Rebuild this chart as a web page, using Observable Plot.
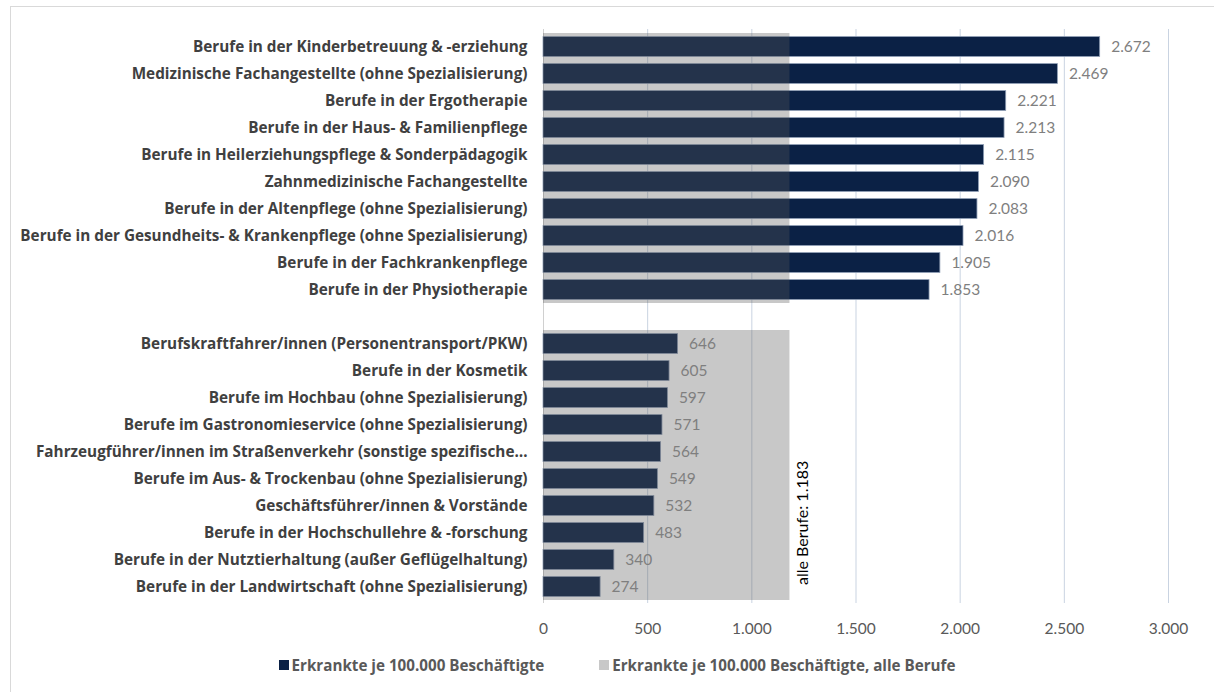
<!DOCTYPE html>
<html><head><meta charset="utf-8">
<script src="https://cdn.jsdelivr.net/npm/d3@7"></script>
<script src="https://cdn.jsdelivr.net/npm/@observablehq/plot@0.6"></script>
<style>
body{margin:0;background:#fff;font-family:Lato, sans-serif;}
#frame{position:absolute;left:10px;top:6px;width:1300px;height:800px;border-left:1px solid #d9d9d9;border-top:1px solid #d9d9d9;}
#chart{position:absolute;left:0;top:0;}
#legend{position:absolute;left:0;top:655px;width:1214px;display:flex;justify-content:center;align-items:center;gap:55px;font-weight:bold;font-size:15.2px;color:#595959;padding-left:20px;box-sizing:border-box;font-family:"Open Sans", sans-serif}
.sw{display:inline-block;width:10px;height:10px;margin-right:3px}
[aria-label="y-axis tick label"]{fill:#404040}
[aria-label="x-axis tick label"]{fill:#595959}
</style></head><body>
<div id="frame"></div><div id="chart"></div><div id="legend"></div>
<script>
const topCats = [
  "Berufe in der Kinderbetreuung & -erziehung",
  "Medizinische Fachangestellte (ohne Spezialisierung)",
  "Berufe in der Ergotherapie",
  "Berufe in der Haus- & Familienpflege",
  "Berufe in Heilerziehungspflege & Sonderpädagogik",
  "Zahnmedizinische Fachangestellte",
  "Berufe in der Altenpflege (ohne Spezialisierung)",
  "Berufe in der Gesundheits- & Krankenpflege (ohne Spezialisierung)",
  "Berufe in der Fachkrankenpflege",
  "Berufe in der Physiotherapie"
];
const topVals = [2672, 2469, 2221, 2213, 2115, 2090, 2083, 2016, 1905, 1853];
const bottomCats = [
  "Berufskraftfahrer/innen (Personentransport/PKW)",
  "Berufe in der Kosmetik",
  "Berufe im Hochbau (ohne Spezialisierung)",
  "Berufe im Gastronomieservice (ohne Spezialisierung)",
  "Fahrzeugführer/innen im Straßenverkehr (sonstige spezifische…",
  "Berufe im Aus- & Trockenbau (ohne Spezialisierung)",
  "Geschäftsführer/innen & Vorstände",
  "Berufe in der Hochschullehre & -forschung",
  "Berufe in der Nutztierhaltung (außer Geflügelhaltung)",
  "Berufe in der Landwirtschaft (ohne Spezialisierung)"
];
const bottomVals = [646, 605, 597, 571, 564, 549, 532, 483, 340, 274];
const allValue = 1183;
const allLabel = "alle Berufe";
const xTicks = [0, 500, 1000, 1500, 2000, 2500, 3000];
const seriesNames = ["Erkrankte je 100.000 Beschäftigte", "Erkrankte je 100.000 Beschäftigte, alle Berufe"];
const seriesColors = ["#0b2145", "#c8c8c8"];

const gapKey = "__gap__";
const locale = d3.formatLocale({decimal: ",", thousands: ".", grouping: [3], currency: ["", " €"]});
const fmt = locale.format(",d");

const rows = [
  ...topCats.map((c, i) => ({cat: c, value: topVals[i]})),
  ...bottomCats.map((c, i) => ({cat: c, value: bottomVals[i]}))
];
const domain = [...topCats, gapKey, ...bottomCats];
const lastCat = bottomCats[bottomCats.length - 1];

const chart = Plot.plot({
  width: 1214,
  height: 645,
  marginLeft: 543,
  marginRight: 46,
  marginTop: 29,
  marginBottom: 42,
  style: {fontFamily: "Lato, sans-serif", background: "transparent", overflow: "visible"},
  x: {domain: [0, 3000], label: null},
  y: {domain, padding: 0, label: null},
  marks: [
    Plot.ruleX(xTicks.filter(t => t > 0), {stroke: "#c9d3e1", strokeWidth: 1}),
    Plot.ruleX([0], {stroke: "#d0d0d0"}),
    Plot.barX(rows, {x: "value", y: "cat", fill: seriesColors[0], stroke: "#8d9cb3", strokeWidth: 0.8, insetTop: 3.6, insetBottom: 3.6}),
    Plot.barX(rows, {x1: d => 0, x2: d => allValue, y: "cat", fill: "#595959", fillOpacity: 0.33}),
    Plot.text(rows, {x: "value", y: "cat", text: d => fmt(d.value), dx: 11, textAnchor: "start", fill: "#7f7f7f", fontSize: 15.5}),
    Plot.text([allValue], {x: d => d, y: d => lastCat, text: d => allLabel + ": " + fmt(d), rotate: -90, textAnchor: "start", dx: 13, dy: -2, fill: "#000", fontSize: 16}),
    Plot.axisX({ticks: xTicks, tickFormat: fmt, tickSize: 0, tickPadding: 19, fontSize: 15.5, label: null}),
    Plot.axisY({tickSize: 0, tickPadding: 16, fontSize: 15.3, fontWeight: "bold", fontFamily: "Open Sans, sans-serif", label: null, tickFormat: d => d === gapKey ? "" : d})
  ]
});
document.getElementById("chart").appendChild(chart);

const legend = document.getElementById("legend");
seriesNames.forEach((n, i) => {
  const item = document.createElement("span");
  item.style.display = "inline-flex";
  item.style.alignItems = "center";
  const sw = document.createElement("span");
  sw.className = "sw";
  sw.style.background = seriesColors[i];
  item.appendChild(sw);
  item.appendChild(document.createTextNode(n));
  legend.appendChild(item);
});
</script>
</body></html>
